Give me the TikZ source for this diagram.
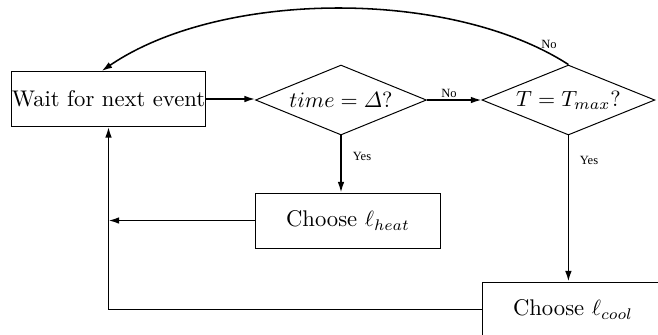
\documentclass[tikz,border=0pt]{standalone}
\usepackage{amsmath}
\usepackage{fontspec}
\newfontfamily\labelfont{Liberation Serif}
\usetikzlibrary{shapes.geometric,arrows.meta}
\begin{document}
\begin{tikzpicture}[x=0.4545pt,y=-0.4545pt,
  box/.style={draw, line width=0.45pt, inner xsep=0.2pt, inner ysep=1pt, minimum height=25pt, font=\fontsize{10.3}{12}\selectfont},
  dec/.style={draw, diamond, aspect=2.4, inner sep=0pt, line width=0.45pt, minimum height=31.8pt, font=\fontsize{10.3}{12}\selectfont},
  conn/.style={line width=0.7pt, -{Latex[length=4.8pt,width=3pt]}},
  lbl/.style={font=\labelfont\fontsize{5.7}{6.5}\selectfont, inner sep=0pt}]
\useasboundingbox (0,0) rectangle (658,334);
\node[box, minimum width=87.7pt] (wait) at (108.5,99) {Wait for next event};
\node[dec, minimum width=77.7pt] (d1) at (341,100) {$time=\varDelta?$};
\node[dec, minimum width=78.6pt] (d2) at (568.4,100) {$T=T_{max}?$};
\node[box, minimum width=84.3pt] (heat) at (348,220.5) {Choose $\ell_{heat}$};
\node[box, minimum width=82.1pt] (cool) at (573,309.5) {Choose $\ell_{cool}$};
\draw[conn] (wait.east) -- (wait.east -| d1.west);
\draw[conn] (d1.east) -- (d2.west);
\draw[conn] (d1.south) -- (d1.south |- heat.north);
\draw[conn] (d2.south) -- (d2.south |- cool.north);
\draw[conn] (heat.west) -- (heat.west -| wait.south);
\draw[conn] (cool.west) -| (wait.south);
\draw[conn] (d2.north) .. controls (450,-12) and (220,-10) .. ([xshift=-3.1pt]wait.north);
\node[lbl] (no1) at (449,93) {No};
\node[lbl] (yes1) at (362,156) {Yes};
\node[lbl] (yes2) at (589,160) {Yes};
\node[lbl] (no2) at (549,44) {No};
\end{tikzpicture}
\end{document}
